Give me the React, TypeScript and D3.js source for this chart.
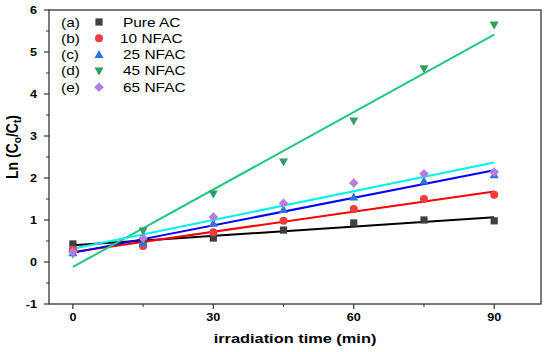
import React from "react";
import * as d3 from "d3";

const times = [0, 15, 30, 45, 60, 75, 90];
const pureAC = [0.43, 0.45, 0.57, 0.76, 0.93, 1.0, 0.98];
const nfac10 = [0.29, 0.38, 0.71, 0.98, 1.26, 1.5, 1.6];
const nfac25 = [0.22, 0.45, 0.92, 1.25, 1.55, 1.93, 2.08];
const nfac45 = [0.19, 0.74, 1.62, 2.38, 3.36, 4.6, 5.64];
const nfac65 = [0.24, 0.57, 1.07, 1.4, 1.88, 2.1, 2.14];

const seriesNames = ["Pure AC", "10 NFAC", "25 NFAC", "45 NFAC", "65 NFAC"];
const seriesTags = ["(a)", "(b)", "(c)", "(d)", "(e)"];
const xTicks = [0, 30, 60, 90];
const yTicks = [-1, 0, 1, 2, 3, 4, 5, 6];

const W = 550, H = 352;
const M = { left: 49, right: 541, top: 10, bottom: 304 };
const SX = 1.26;

const series = [
  { name: seriesNames[0], tag: seriesTags[0], values: pureAC, marker: "square", mColor: "#404040", lColor: "#000000" },
  { name: seriesNames[1], tag: seriesTags[1], values: nfac10, marker: "circle", mColor: "#f03c3c", lColor: "#ff0000" },
  { name: seriesNames[2], tag: seriesTags[2], values: nfac25, marker: "triangle", mColor: "#2f74dc", lColor: "#0000ff" },
  { name: seriesNames[3], tag: seriesTags[3], values: nfac45, marker: "down", mColor: "#2f9e60", lColor: "#1ec87e" },
  { name: seriesNames[4], tag: seriesTags[4], values: nfac65, marker: "diamond", mColor: "#b27fe0", lColor: "#00f0f0" },
];

function fit(xs: number[], ys: number[]) {
  const mx = d3.mean(xs)!, my = d3.mean(ys)!;
  let sxy = 0, sxx = 0;
  xs.forEach((x, i) => { sxy += (x - mx) * (ys[i] - my); sxx += (x - mx) * (x - mx); });
  const b = sxy / sxx;
  return { a: my - b * mx, b };
}

function Marker({ type, x, y, color }: { type: string; x: number; y: number; color: string }) {
  const s = 3.6;
  if (type === "square") return <rect x={x - s} y={y - s} width={2 * s} height={2 * s} fill={color} />;
  if (type === "circle") return <circle cx={x} cy={y} r={4} fill={color} />;
  if (type === "triangle") return <path d={`M${x},${y - 4.5}L${x + 4.5},${y + 3.5}L${x - 4.5},${y + 3.5}Z`} fill={color} />;
  if (type === "down") return <path d={`M${x},${y + 4.5}L${x + 4.5},${y - 3.5}L${x - 4.5},${y - 3.5}Z`} fill={color} />;
  return <path d={`M${x},${y - 4.8}L${x + 4.8},${y}L${x},${y + 4.8}L${x - 4.8},${y}Z`} fill={color} />;
}

export default function App() {
  const x = d3.scaleLinear().domain([-5.1, 100]).range([M.left, M.right]);
  const y = d3.scaleLinear().domain([-1, 6]).range([M.bottom, M.top]);
  const xMinor = d3.range(15, 100, 30);
  const yMinor = d3.range(-0.5, 6, 1);
  const font = "Liberation Sans, Arial, sans-serif";
  const line = d3.line<[number, number]>().x(d => x(d[0])).y(d => y(d[1]));

  return (
    <svg width={W} height={H} style={{ position: "absolute", left: 0, top: 0, background: "#fff" }} fontFamily={font}>
      <rect width={W} height={H} fill="#fff" />
      {/* fit lines */}
      {series.map((s, i) => {
        const f = fit(times, s.values);
        const pts: [number, number][] = [[0, f.a], [90, f.a + 90 * f.b]];
        return <path key={"l" + i} d={line(pts)!} stroke={s.lColor} strokeWidth={2} fill="none" />;
      })}
      {/* markers */}
      {series.map((s, i) => (
        <g key={"m" + i}>
          {s.values.map((v, j) => <Marker key={j} type={s.marker} x={x(times[j])} y={y(v)} color={s.mColor} />)}
        </g>
      ))}
      {/* frame */}
      <rect x={M.left} y={M.top} width={M.right - M.left} height={M.bottom - M.top} fill="none" stroke="#333" strokeWidth={1.3} />
      {/* y ticks */}
      {yTicks.map(t => (
        <g key={"yt" + t}>
          <line x1={M.left - 5} x2={M.left} y1={y(t)} y2={y(t)} stroke="#333" strokeWidth={1.2} />
          <text transform={`translate(${M.left - 12},${y(t) + 3.6}) scale(${SX},1)`} textAnchor="end" fontSize={10} fontWeight="bold">{t}</text>
        </g>
      ))}
      {yMinor.map(t => <line key={"ym" + t} x1={M.left - 3} x2={M.left} y1={y(t)} y2={y(t)} stroke="#333" strokeWidth={1} />)}
      {/* x ticks */}
      {xTicks.map(t => (
        <g key={"xt" + t}>
          <line x1={x(t)} x2={x(t)} y1={M.bottom} y2={M.bottom + 5} stroke="#333" strokeWidth={1.2} />
          <text transform={`translate(${x(t)},${M.bottom + 16.5}) scale(${SX},1)`} textAnchor="middle" fontSize={10} fontWeight="bold">{t}</text>
        </g>
      ))}
      {xMinor.map(t => <line key={"xm" + t} x1={x(t)} x2={x(t)} y1={M.bottom} y2={M.bottom + 3} stroke="#333" strokeWidth={1} />)}
      {/* axis titles */}
      <text transform={`translate(${(M.left + M.right) / 2},343) scale(${SX},1)`} textAnchor="middle" fontSize={13} fontWeight="bold">irradiation time (min)</text>
      <text transform={`translate(18,147) rotate(-90) scale(1,1.12)`} textAnchor="middle" fontSize={14} fontWeight="bold">
        Ln (C<tspan fontSize={10} dy={3}>o</tspan><tspan dy={-3}>/C</tspan><tspan fontSize={10} dy={3}>t</tspan><tspan dy={-3}>)</tspan>
      </text>
      {/* legend */}
      {series.map((s, i) => {
        const ly = 22 + i * 16.3;
        return (
          <g key={"lg" + i}>
            <text transform={`translate(61,${ly + 4.5}) scale(${SX * 0.98},1)`} fontSize={12.5}>{s.tag}</text>
            <Marker type={s.marker} x={99} y={ly} color={s.mColor} />
            <text transform={`translate(${i === 1 ? 120 : 123},${ly + 4.5}) scale(${SX * 0.98},1)`} fontSize={12.5}>{s.name}</text>
          </g>
        );
      })}
    </svg>
  );
}
